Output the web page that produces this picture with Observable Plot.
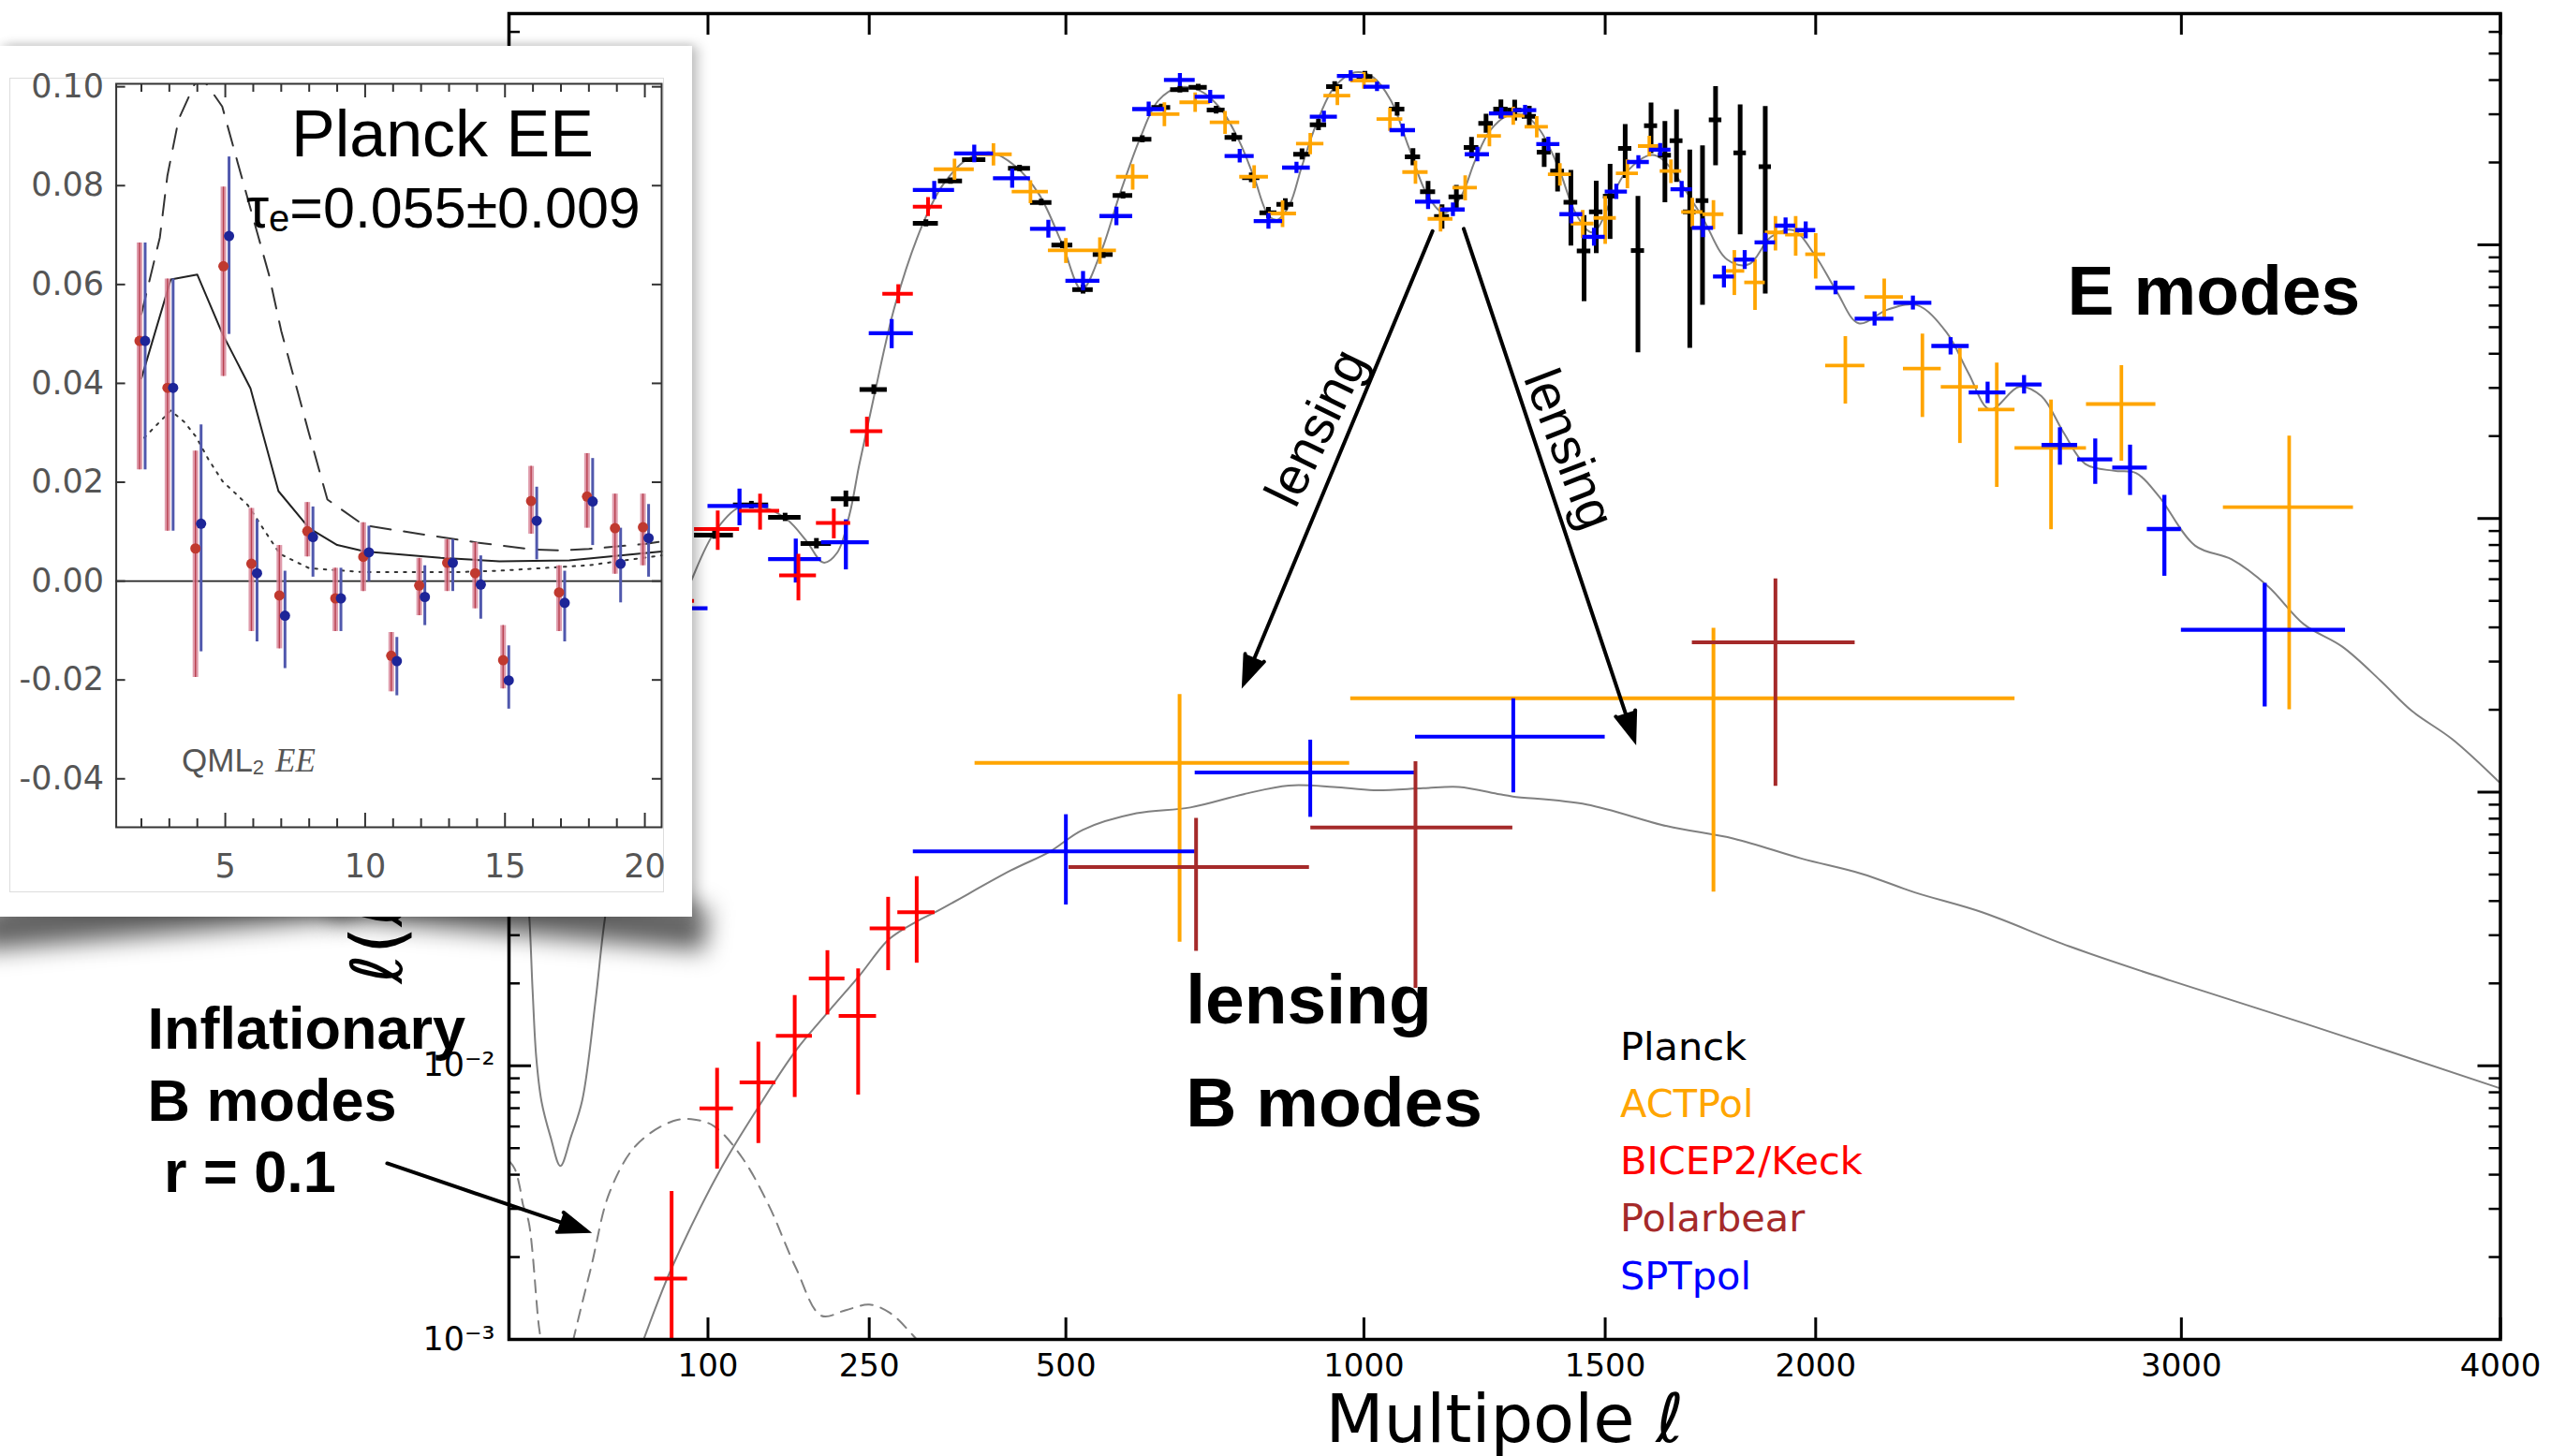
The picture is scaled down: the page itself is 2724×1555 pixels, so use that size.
<!DOCTYPE html>
<html>
<head>
<meta charset="utf-8">
<script src="https://cdn.jsdelivr.net/npm/d3@7"></script>
<script src="https://cdn.jsdelivr.net/npm/@observablehq/plot@0.6"></script>
<style>
  html, body { margin: 0; padding: 0; background: #fff; }
  #page { position: relative; width: 2724px; height: 1555px; overflow: hidden; background: #fff; }
  #page > * { position: absolute; }
  #main { left: 0; top: 0; z-index: 0; }
  .shadow { z-index: 1; background: rgba(0,0,0,0.62); filter: blur(13px); height: 46px; top: 952px; width: 400px; }
  #shL { left: -25px; transform: rotate(-5deg); }
  #shR { left: 355px; transform: rotate(5deg); }
  #card { left: 0; top: 49px; width: 739px; height: 930px; background: #fff; z-index: 2;
          box-shadow: 7px 0 12px rgba(0,0,0,0.22), 0 -3px 8px rgba(0,0,0,0.08); }
  #card > * { position: absolute; left: 0; top: 0; }
  #cardBorder { left: 10px; top: 34px; width: 697px; height: 868px; border: 1.5px solid #ddd; }
  #overlay { left: 0; top: 0; z-index: 3; pointer-events: none; }
</style>
</head>
<body>
<div id="page">
  <div id="main"></div>
  <div class="shadow" id="shL"></div>
  <div class="shadow" id="shR"></div>
  <div id="card"><div id="cardBorder"></div></div>
</div>
<script>
// ------------------------------------------------------------------
// Theory spectra, D_ell = l(l+1)C_l/2pi  [uK^2]
// ------------------------------------------------------------------
const eTheoryL = [2,3,4,5,6,7,8,9.5,12.3,15.7,19.7,24.4,30.5,35,45,55,65,75,87.5,105,125,145,167,185,202,216,229,239,256,279,311,336,366,397,429,462,495,523,552,580,612,640,674,708,743,774,800,826,842,863,884,911,944,983,1018,1052,1087,1123,1157,1190,1220,1251,1288,1326,1358,1397,1436,1472,1545,1612,1713,1783,1835,1889,1943,1998,2053,2109,2184,2261,2339,2398,2457,2537,2598,2660,2722,2805,2868,2933,3041,3150,3261,3371,3490,3610,3711,3842,3995];
const eTheoryD = [0.041,0.061,0.062,0.050,0.038,0.019,0.0107,0.0074,0.0055,0.0043,0.0055,0.0075,0.0177,0.035,0.085,0.16,0.27,0.40,0.59,0.89,1.10,1.10,0.99,0.83,0.69,0.75,1.04,1.56,2.87,6.04,11.87,16.64,20.54,21.74,19.42,15.29,10.02,6.86,9.47,15.29,24.68,33.62,37.63,36.6,31.34,23.99,17.6,12.73,12.38,14.05,19.15,27.6,37.63,42.71,40.94,33.62,22.67,15.29,13.09,14.86,20.26,26.1,29.64,29.64,26.1,19.15,12.91,11.1,18.25,21.26,13.44,8.83,8.49,10.69,11.32,9.17,6.75,5.17,5.80,6.02,4.79,3.40,2.50,3.03,2.80,2.065,1.58,1.493,1.464,1.21,0.795,0.709,0.564,0.41,0.34,0.256,0.198,0.156,0.109];

const lensBBL = [45,56.2,64.3,74,108.6,142,174.8,207,239.5,272,304.6,329,423,477,524.5,606,692,782,861,943,1019,1115,1187,1271,1299,1459,1641,1799,1964,2117,2255,2435,2677,2967,3371,3995];
const lensBBD = [0.00065,0.001,0.00134,0.00182,0.0041,0.00717,0.01133,0.01577,0.02137,0.029,0.03376,0.03679,0.0517,0.0606,0.0728,0.0837,0.0879,0.0983,0.1057,0.1045,0.1016,0.1033,0.1045,0.0982,0.0964,0.0901,0.0751,0.0676,0.0572,0.0503,0.043,0.0364,0.0273,0.0205,0.0143,0.0083];

// primordial tensor B modes, r = 0.1
const inflBBL = [2,3,4,4.7,6,8.8,10,13,17,21,28.4,37.2,52,75,90,105,127,150,175,200,225,250,273,299,330,380];
const inflBBD = [0.0045,0.0042,0.0036,0.0031,0.0027,0.0011,0.0009,0.0006,0.0007,0.00103,0.00185,0.00344,0.00514,0.00628,0.00636,0.006,0.00463,0.0031,0.00183,0.00122,0.00128,0.00134,0.00125,0.00104,0.0008,0.0005];

// ------------------------------------------------------------------
// EE band powers: centre ell, D_ell, 1-sigma error, half bin width
// ------------------------------------------------------------------
const planckEEL = [105,135,165,195,225,255,315,345,375,435,465,495,525,555,585,615,645,675,705,735,765,795,825,855,885,915,945,1002,1064,1095,1125,1153,1182,1213,1243,1274,1303,1334,1366,1395,1424,1453,1480,1511,1545,1574,1604,1636,1663,1694,1724,1755,1814,1875];
const planckEED = [0.87,1.12,1.01,0.81,1.18,2.96,11.99,17.11,20.49,19.04,14.29,9.98,6.86,9.22,15.15,24.32,31.79,36.93,37.63,31.07,24.7,17.6,13.09,14.05,21.43,27.46,37.84,41.2,31.34,20.95,15.64,12.7,14.98,22.67,27.8,31.34,31.07,29.47,21.8,18.6,14.3,9.5,13.19,15.07,22.51,9.53,27.26,21.26,24.03,13.19,14.51,28.65,21.68,19.31];
const planckEEErr = [0.03,0.035,0.035,0.035,0.08,0.12,0.35,0.45,0.5,0.5,0.4,0.3,0.25,0.3,0.45,0.7,0.9,1.0,1.0,1.0,0.9,0.7,0.6,0.7,1.0,1.3,1.6,1.8,1.8,1.5,1.4,1.3,1.5,2.0,2.2,2.5,2.7,2.6,2.6,3.0,4.4,3.3,3.9,4.6,5.0,5.5,5.7,7.0,7.1,9.0,8.5,9.2,10.8,12.7];
const planckEEHalfBin = 15;

const actEEL = [350,400,450,500,550,600,650,700,750,800,850,900,950,1000,1050,1100,1150,1200,1250,1300,1350,1400,1450,1500,1550,1600,1650,1700,1750,1800,1850,1900,1950,2000,2075,2175,2275,2375,2475,2625,2825,3325];
const actEED = [18.89,21.43,15.64,9.55,9.55,17.74,30.06,33.18,28.03,17.74,13.02,23.45,35.09,39.82,28.81,18.45,12.44,16.18,25.01,29.61,27.01,18.1,11.96,12.54,18.25,22.96,18.6,13.19,12.94,8.03,7.29,11.1,10.89,9.24,3.62,6.45,3.53,3.03,2.50,1.81,2.62,1.10];
const actEEErr = [1.66,2.0,1.5,1.0,1.06,1.9,3.0,2.7,2.7,1.7,1.45,2.1,2.8,2.8,2.8,1.8,1.3,1.7,2.2,2.25,2.4,1.7,1.4,2.5,2.2,2.0,1.85,1.6,1.57,1.5,1.53,1.6,1.8,1.74,1.0,1.05,1.19,1.15,1.2,0.9,1.0,0.9];
const actEEHalfBin = [25,25,25,25,25,25,25,25,25,25,25,25,25,25,25,25,25,25,25,25,25,25,25,25,25,25,25,25,25,25,25,25,25,25,50,50,50,50,50,100,100,200];

const sptEEL = [75,125,175,225,275,325,375,425,475,525,575,625,675,725,775,825,875,925,975,1025,1075,1125,1175,1225,1275,1325,1375,1425,1475,1525,1575,1625,1675,1725,1775,1825,1875,1925,1975,2050,2150,2250,2350,2450,2550,2650,2750,2850,2950,3250];
const sptEED = [0.47,1.111,0.711,0.819,4.755,15.86,21.56,17.51,11.44,7.39,12.74,31.34,40.06,34.78,21.13,12.21,19.15,29.38,41.42,37.84,26.25,14.37,13.46,21.43,30.23,31.07,23.35,12.94,10.69,15.66,20.08,22.26,15.96,11.53,7.66,8.83,10.21,11.75,11.32,6.97,5.37,6.14,4.27,2.89,3.09,1.856,1.643,1.534,0.915,0.392];
const sptEEErr = [0.15,0.17,0.13,0.17,0.58,1.2,1.6,1.4,0.85,0.6,1.0,1.9,2.2,1.9,1.2,0.8,0.9,1.4,1.9,1.5,1.4,0.9,0.76,1.3,1.4,1.3,1.4,1.0,0.8,1.0,1.1,1.2,1.1,0.9,0.7,0.7,0.8,0.8,0.8,0.4,0.32,0.36,0.31,0.26,0.24,0.29,0.31,0.32,0.3,0.187];
const sptEEHalfBin = [25,25,25,25,25,25,25,25,25,25,25,25,25,25,25,25,25,25,25,25,25,25,25,25,25,25,25,25,25,25,25,25,25,25,25,25,25,25,25,50,50,50,50,50,50,50,50,50,50,250];

const bkEEL = [72.5,107.5,142.5,177.5,212.5,247.5,282.5,317.5];
const bkEED = [0.50,0.915,1.067,0.62,0.963,2.085,6.62,13.78];
const bkEEErr = [0.15,0.15,0.16,0.12,0.12,0.26,0.53,1.09];
const bkEEHalfBin = 17.5;

// ------------------------------------------------------------------
// BB band powers
// ------------------------------------------------------------------
const bkBBL = [74,107,141,174,206,238,271,304];
const bkBBD = [0.00167,0.00699,0.0087,0.01286,0.02084,0.01522,0.03177,0.03641];
const bkBBErr = [0.0018,0.0028,0.0035,0.0052,0.0055,0.0074,0.0095,0.0127];
const bkBBHalfBin = [11,13,15.5,17,18,20,20,22];

const actBBL = [674.5,1750];
const actBBD = [0.1278,0.2201];
const actBBErr = [0.0995,0.177];
const actBBHalfBin = [298.5,775];

const pbBBL = [701.5,1100,1900];
const pbBBD = [0.0532,0.0742,0.353];
const pbBBErr = [0.027,0.055,0.248];
const pbBBHalfBin = [197,199,200];

const sptBBL = [500,900,1300];
const sptBBD = [0.0607,0.1179,0.1594];
const sptBBErr = [0.022,0.037,0.06];
const sptBBHalfBin = [200,200,200];

// ------------------------------------------------------------------
// Axes, legend, annotations
// ------------------------------------------------------------------
const xTicks = [100,250,500,1000,1500,2000,3000,4000];
const yMajorTicks = [1e-3,1e-2,1e-1,1,10];
const legendNames = ["Planck","ACTPol","BICEP2/Keck","Polarbear","SPTpol"];
const legendColors = ["black","orange","red","brown","blue"];

const bigLabelL = [2671,684.6,684.6];
const bigLabelD = [5.58,0.01426,0.006007];
const bigLabelText = ["E modes","lensing","B modes"];

// lensing arrows: from the E-mode trough down to the lensing B modes
const lensArrowL1 = [1134,1197], lensArrowD1 = [11.23,11.45];
const lensArrowL2 = [782,1566],  lensArrowD2 = [0.249,0.155];
const lensWordL = [912,1419], lensWordD = [2.145,1.79], lensWordAngle = [-64,69];
// arrow from the "r = 0.1" caption (left of the frame) to the tensor curve
const inflArrowL1 = [-27.2], inflArrowD1 = [0.0044];
const inflArrowL2 = [26.4],  inflArrowD2 = [0.002485];
const inflCaption = ["Inflationary","B modes"," r = 0.1"];

// ------------------------------------------------------------------
// Inset: Planck low-ell EE (QML2), linear axes
// ------------------------------------------------------------------
const insetL = [2,3,4,5,6,7,8,9,10,11,12,13,14,15,16,17,18,19,20];
const insetRed   = [0.0486,0.0391,0.0066,0.0637,0.0035,-0.0029,0.0101,-0.0035,0.0049,-0.0151,-0.0009,0.0037,0.0016,-0.016,0.0162,-0.0023,0.0171,0.0107,0.0109];
const insetRedLo = [0.0225,0.0101,-0.0195,0.0414,-0.0102,-0.0137,0.0049,-0.0102,-0.0021,-0.0224,-0.007,-0.0021,-0.0056,-0.0218,0.0095,-0.0102,0.0107,0.0014,0.0031];
const insetRedHi = [0.0684,0.0611,0.0263,0.0797,0.0147,0.0072,0.0159,0.0026,0.0118,-0.0104,0.0046,0.0084,0.0078,-0.009,0.0232,0.0031,0.0258,0.0176,0.0176];
const insetBlue   = [0.0486,0.0391,0.0116,0.0698,0.0016,-0.007,0.0089,-0.0035,0.0058,-0.0162,-0.0032,0.0037,-0.0007,-0.0201,0.0122,-0.0044,0.0161,0.0035,0.0087];
const insetBlueLo = [0.0225,0.0101,-0.0143,0.0499,-0.0123,-0.0177,0.0008,-0.0102,-0.0001,-0.0232,-0.009,-0.0021,-0.0077,-0.0259,0.0043,-0.0123,0.0072,-0.0044,0.0008];
const insetBlueHi = [0.0684,0.0611,0.0316,0.0858,0.0124,0.002,0.015,0.0026,0.0111,-0.0114,0.0031,0.0084,0.0051,-0.0131,0.019,0.002,0.0248,0.0107,0.0155];
const insetSolidL = [2,3.05,4,4.9,5.9,6.9,8,9,10,12.7,14.8,17.3,20.6];
const insetSolidV = [0.041,0.061,0.062,0.050,0.039,0.0182,0.0107,0.0073,0.006,0.0047,0.004,0.0042,0.006];
const insetDashL = [2,2.66,2.93,3.33,3.89,4.1,4.35,4.89,5.44,6.56,7.0,8.0,8.65,9.95,12,14,16,17,18,20,20.6];
const insetDashV = [0.054,0.0695,0.082,0.0934,0.1004,0.102,0.1004,0.096,0.0847,0.062,0.0506,0.0297,0.0165,0.0113,0.0095,0.0078,0.0064,0.0062,0.0065,0.0075,0.008];
const insetDotL = [2.1,2.55,3.05,3.53,3.94,4.4,4.9,5.8,6.95,8,10,13.2,14.8,18,20.6];
const insetDotV = [0.029,0.0316,0.0345,0.0322,0.0293,0.0246,0.0202,0.0154,0.0055,0.0026,0.0018,0.0018,0.0021,0.0032,0.0052];
const insetXTicks = [5,10,15,20];
const insetYTicks = [-0.04,-0.02,0,0.02,0.04,0.06,0.08,0.10];

// ------------------------------------------------------------------
// helpers
// ------------------------------------------------------------------
const zip = (ls, ds) => ls.map((l, i) => ({l, d: ds[i]}));
function crossRows(ls, ds, errs, half) {
  return ls.map((l, i) => ({l, d: ds[i], e: errs[i], h: Array.isArray(half) ? half[i] : half}));
}
function crossMarks(rows, color, sw) {
  return [
    Plot.ruleY(rows, {y: "d", x1: r => r.l - r.h, x2: r => r.l + r.h, stroke: color, strokeWidth: sw, clip: true}),
    Plot.ruleX(rows, {x: "l", y1: r => Math.max(r.d - r.e, 1e-6), y2: r => r.d + r.e, stroke: color, strokeWidth: sw, clip: true})
  ];
}
const SUP = {"-": "\u207B", "0": "\u2070", "1": "\u00B9", "2": "\u00B2", "3": "\u00B3"};
const powLabel = v => "10" + String(Math.round(Math.log10(v))).split("").map(c => SUP[c]).join("");

// ------------------------------------------------------------------
// main panel
// ------------------------------------------------------------------
const W = 2724, H = 1555;
const M = {left: 543, right: 54.5, top: 14, bottom: 125};
const innerW = W - M.left - M.right, innerH = H - M.top - M.bottom;
const yMinorTicks = [];
for (let k = -3; k <= 1; k++) for (let m = 2; m <= 9; m++) if (m * 10 ** k <= 70) yMinorTicks.push(m * 10 ** k);

const inflArrows = inflArrowL1.map((l, i) => ({l1: l, d1: inflArrowD1[i], l2: inflArrowL2[i], d2: inflArrowD2[i]}));
const lensArrows = lensArrowL1.map((l, i) => ({l1: l, d1: lensArrowD1[i], l2: lensArrowL2[i], d2: lensArrowD2[i]}));
const arrowStyle = {x1: "l1", y1: "d1", x2: "l2", y2: "d2", stroke: "black", fill: "black",
  strokeWidth: 4, headLength: 12, headAngle: 40, strokeLinejoin: "miter", strokeMiterlimit: 4};

const mainPlot = Plot.plot({
  width: W, height: H,
  marginLeft: M.left, marginRight: M.right, marginTop: M.top, marginBottom: M.bottom,
  x: {type: "pow", exponent: 0.6, domain: [2, 4000]},
  y: {type: "log", domain: [1e-3, 70]},
  style: {fontFamily: "DejaVu Sans", background: "#fff", color: "black"},
  marks: [
    // theory curves
    Plot.line(zip(eTheoryL, eTheoryD), {x: "l", y: "d", stroke: "#808080", strokeWidth: 2, curve: "catmull-rom", clip: true}),
    Plot.line(zip(lensBBL, lensBBD), {x: "l", y: "d", stroke: "#808080", strokeWidth: 2, curve: "catmull-rom", clip: true}),
    Plot.line(zip(inflBBL, inflBBD), {x: "l", y: "d", stroke: "#808080", strokeWidth: 2, strokeDasharray: "13,9", curve: "catmull-rom", clip: true}),
    // EE band powers
    ...crossMarks(crossRows(planckEEL, planckEED, planckEEErr, planckEEHalfBin), "black", 5),
    ...crossMarks(crossRows(actEEL, actEED, actEEErr, actEEHalfBin), "orange", 3.8),
    ...crossMarks(crossRows(sptEEL, sptEED, sptEEErr, sptEEHalfBin), "blue", 4.3),
    ...crossMarks(crossRows(bkEEL, bkEED, bkEEErr, bkEEHalfBin), "red", 4),
    // BB band powers
    ...crossMarks(crossRows(actBBL, actBBD, actBBErr, actBBHalfBin), "orange", 4),
    ...crossMarks(crossRows(sptBBL, sptBBD, sptBBErr, sptBBHalfBin), "blue", 4),
    ...crossMarks(crossRows(pbBBL, pbBBD, pbBBErr, pbBBHalfBin), "brown", 4),
    ...crossMarks(crossRows(bkBBL, bkBBD, bkBBErr, bkBBHalfBin), "red", 4),
    // frame and inward ticks on all four sides
    Plot.frame({stroke: "black", strokeWidth: 3.5}),
    Plot.tickX(xTicks, {x: d => d, insetTop: innerH - 23, stroke: "black", strokeWidth: 3}),
    Plot.tickX(xTicks, {x: d => d, insetBottom: innerH - 23, stroke: "black", strokeWidth: 3}),
    Plot.tickY(yMajorTicks, {y: d => d, insetRight: innerW - 24, stroke: "black", strokeWidth: 3}),
    Plot.tickY(yMajorTicks, {y: d => d, insetLeft: innerW - 24, stroke: "black", strokeWidth: 3}),
    Plot.tickY(yMinorTicks, {y: d => d, insetRight: innerW - 12, stroke: "black", strokeWidth: 2.5}),
    Plot.tickY(yMinorTicks, {y: d => d, insetLeft: innerW - 12, stroke: "black", strokeWidth: 2.5}),
    Plot.axisX({ticks: xTicks, tickSize: 0, tickPadding: 15, fontSize: 34, label: null, tickFormat: d => String(d)}),
    Plot.axisY({ticks: yMajorTicks, tickSize: 0, tickPadding: 15, fontSize: 35, label: null, tickFormat: powLabel}),
    Plot.text(["Multipole \u2113"], {frameAnchor: "bottom", dy: 109, lineAnchor: "bottom", fontSize: 72}),
    // y title runs upward from just below the inset card
    Plot.text(["\u2113(\u2113+1)C\u2113/2\u03C0 [\u03BCK\u00B2]"], {frameAnchor: "left", dx: -115, dy: 328, rotate: -90, textAnchor: "start", lineAnchor: "bottom", fontSize: 76}),
    // annotations
    Plot.text(bigLabelText.map((t, i) => ({t, l: bigLabelL[i], d: bigLabelD[i]})),
      {x: "l", y: "d", text: "t", textAnchor: "start", lineAnchor: "bottom", fontSize: 75, fontWeight: "bold", fontFamily: "Liberation Sans", fill: "black"}),
    ...lensWordL.map((l, i) => Plot.text([{l, d: lensWordD[i]}],
      {x: "l", y: "d", text: () => "lensing", rotate: lensWordAngle[i], textAnchor: "middle", lineAnchor: "middle", fontSize: 56, fontFamily: "Liberation Sans", fill: "black"})),
    Plot.arrow(lensArrows, arrowStyle),
    Plot.arrow(inflArrows, arrowStyle)
  ]
});
document.getElementById("main").append(mainPlot);

// ------------------------------------------------------------------
// inset card
// ------------------------------------------------------------------
const CW = 739, CH = 930;
const IM = {left: 123.6, right: 33, top: 40, bottom: 96};
const iW = CW - IM.left - IM.right, iH = CH - IM.top - IM.bottom;
const iIntTicks = [2,3,4,6,7,8,9,11,12,13,14,16,17,18,19];
const redRows = insetL.map((l, i) => ({l, v: insetRed[i], lo: insetRedLo[i], hi: insetRedHi[i]}));
const blueRows = insetL.map((l, i) => ({l, v: insetBlue[i], lo: insetBlueLo[i], hi: insetBlueHi[i]}));

const insetPlot = Plot.plot({
  width: CW, height: CH,
  marginLeft: IM.left, marginRight: IM.right, marginTop: IM.top, marginBottom: IM.bottom,
  x: {domain: [1.1, 20.6]},
  y: {domain: [-0.0498, 0.1006]},
  style: {fontFamily: "DejaVu Sans", background: "transparent", color: "#333"},
  marks: [
    Plot.ruleY([0], {stroke: "#222", strokeWidth: 1.6}),
    Plot.line(zip(insetSolidL, insetSolidV), {x: "l", y: "d", stroke: "#222", strokeWidth: 2}),
    Plot.line(zip(insetDashL, insetDashV), {x: "l", y: "d", stroke: "#333", strokeWidth: 2, strokeDasharray: "22,14", clip: true}),
    Plot.line(zip(insetDotL, insetDotV), {x: "l", y: "d", stroke: "#333", strokeWidth: 2, strokeDasharray: "2.5,7"}),
    Plot.ruleX(redRows, {x: "l", y1: "lo", y2: "hi", dx: -2, stroke: "#d98a9c", strokeOpacity: 0.85, strokeWidth: 6}),
    Plot.ruleX(redRows, {x: "l", y1: "lo", y2: "hi", dx: -2, stroke: "#b8404f", strokeWidth: 1.4}),
    Plot.ruleX(blueRows, {x: "l", y1: "lo", y2: "hi", dx: 4, stroke: "#5058ad", strokeWidth: 3}),
    Plot.dot(redRows, {x: "l", y: "v", dx: -2, r: 5.5, fill: "#c0392f", stroke: "none"}),
    Plot.dot(blueRows, {x: "l", y: "v", dx: 4, r: 5.5, fill: "#1d2598", stroke: "none"}),
    Plot.frame({stroke: "#333", strokeWidth: 2}),
    Plot.tickX(insetXTicks, {x: d => d, insetTop: iH - 15, stroke: "#333", strokeWidth: 2}),
    Plot.tickX(insetXTicks, {x: d => d, insetBottom: iH - 15, stroke: "#333", strokeWidth: 2}),
    Plot.tickX(iIntTicks, {x: d => d, insetTop: iH - 9, stroke: "#333", strokeWidth: 2}),
    Plot.tickX(iIntTicks, {x: d => d, insetBottom: iH - 9, stroke: "#333", strokeWidth: 2}),
    Plot.tickY(insetYTicks, {y: d => d, insetRight: iW - 10, stroke: "#333", strokeWidth: 2}),
    Plot.tickY(insetYTicks, {y: d => d, insetLeft: iW - 10, stroke: "#333", strokeWidth: 2}),
    Plot.axisY({ticks: insetYTicks, tickSize: 0, tickPadding: 13, fontSize: 35, label: null, color: "#555", tickFormat: d => d.toFixed(2)}),
    Plot.axisX({ticks: insetXTicks, tickSize: 0, tickPadding: 29, fontSize: 35, label: null, color: "#555", tickFormat: d => String(d)})
  ]
});
document.getElementById("card").append(insetPlot);

// inset captions
const isvg = d3.select(insetPlot);
isvg.append("text").attr("x", 311).attr("y", 118).attr("text-anchor", "start")
  .attr("font-family", "Liberation Sans").attr("font-size", 70).attr("fill", "black").text("Planck EE");
const tau = isvg.append("text").attr("x", 263).attr("y", 194).attr("text-anchor", "start")
  .attr("font-family", "Liberation Sans").attr("font-size", 61).attr("fill", "black");
tau.append("tspan").text("\u03C4");
tau.append("tspan").attr("font-size", 40).attr("dy", 4).text("e");
tau.append("tspan").attr("dy", -4).text("=0.055\u00B10.009");
const qml = isvg.append("text").attr("x", 194).attr("y", 775).attr("text-anchor", "start")
  .attr("font-family", "Liberation Sans").attr("font-size", 35).attr("fill", "#555");
qml.append("tspan").text("QML");
qml.append("tspan").attr("font-size", 22).attr("dy", 3).text("2");
qml.append("tspan").attr("dy", -3).attr("dx", 12).attr("font-family", "Liberation Serif").attr("font-style", "italic").text("EE");

// ------------------------------------------------------------------
// legend and left-hand caption
// ------------------------------------------------------------------
const ov = d3.select("#page").append("svg").attr("id", "overlay").attr("width", W).attr("height", H);
legendNames.forEach((name, i) => {
  ov.append("text").attr("x", 1730).attr("y", 1131.7 + i * 61.25).attr("text-anchor", "start")
    .attr("font-family", "DejaVu Sans").attr("font-size", 41.5).attr("fill", legendColors[i]).text(name);
});
inflCaption.forEach((line, i) => {
  ov.append("text").attr("x", 157.5).attr("y", 1120.4 + i * 76.5).attr("text-anchor", "start")
    .style("white-space", "pre")
    .attr("font-family", "Liberation Sans").attr("font-weight", "bold").attr("font-size", 63).attr("fill", "black").text(line);
});
</script>
</body>
</html>
